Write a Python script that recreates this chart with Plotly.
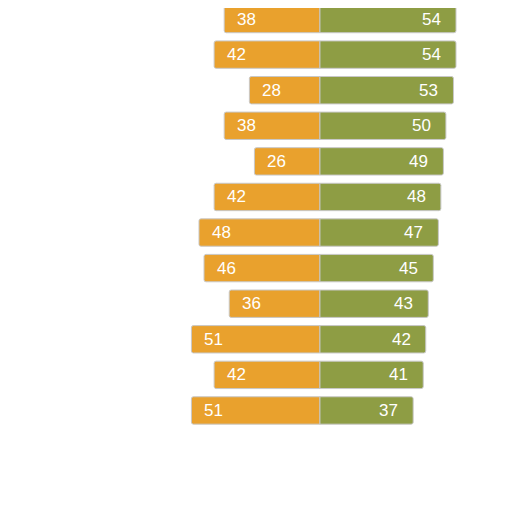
import plotly.graph_objects as go

# values, top row first
left_vals = [38, 42, 28, 38, 26, 42, 48, 46, 36, 51, 42, 51]
right_vals = [54, 54, 53, 50, 49, 48, 47, 45, 43, 42, 41, 37]
rows = list(range(len(left_vals)))

orange = "#E9A12D"
green = "#8E9D44"

fig = go.Figure()
fig.add_trace(go.Bar(
    y=rows, x=[-v for v in left_vals], orientation="h",
    marker=dict(color=orange, line=dict(color="#c8c8c8", width=1), cornerradius=2),
    width=0.77, hoverinfo="skip",
))
fig.add_trace(go.Bar(
    y=rows, x=right_vals, orientation="h",
    marker=dict(color=green, line=dict(color="#c8c8c8", width=1), cornerradius=2),
    width=0.77, hoverinfo="skip",
))

# value labels inside the outer end of each bar
for r, lv, rv in zip(rows, left_vals, right_vals):
    fig.add_annotation(x=-lv, y=r, text=str(lv), showarrow=False,
                       xanchor="left", xshift=11,
                       font=dict(color="white", size=17, family="Liberation Sans"))
    fig.add_annotation(x=rv, y=r, text=str(rv), showarrow=False,
                       xanchor="right", xshift=-13,
                       font=dict(color="white", size=17, family="Liberation Sans"))

fig.update_layout(
    width=512, height=512,
    barmode="relative",
    showlegend=False,
    plot_bgcolor="white", paper_bgcolor="white",
    margin=dict(l=0, r=0, t=0, b=85),
    xaxis=dict(range=[-123.8, 79.4], visible=False, fixedrange=True),
    yaxis=dict(range=[11.69, -0.31], visible=False, fixedrange=True),
)

fig.write_html("out.html")
